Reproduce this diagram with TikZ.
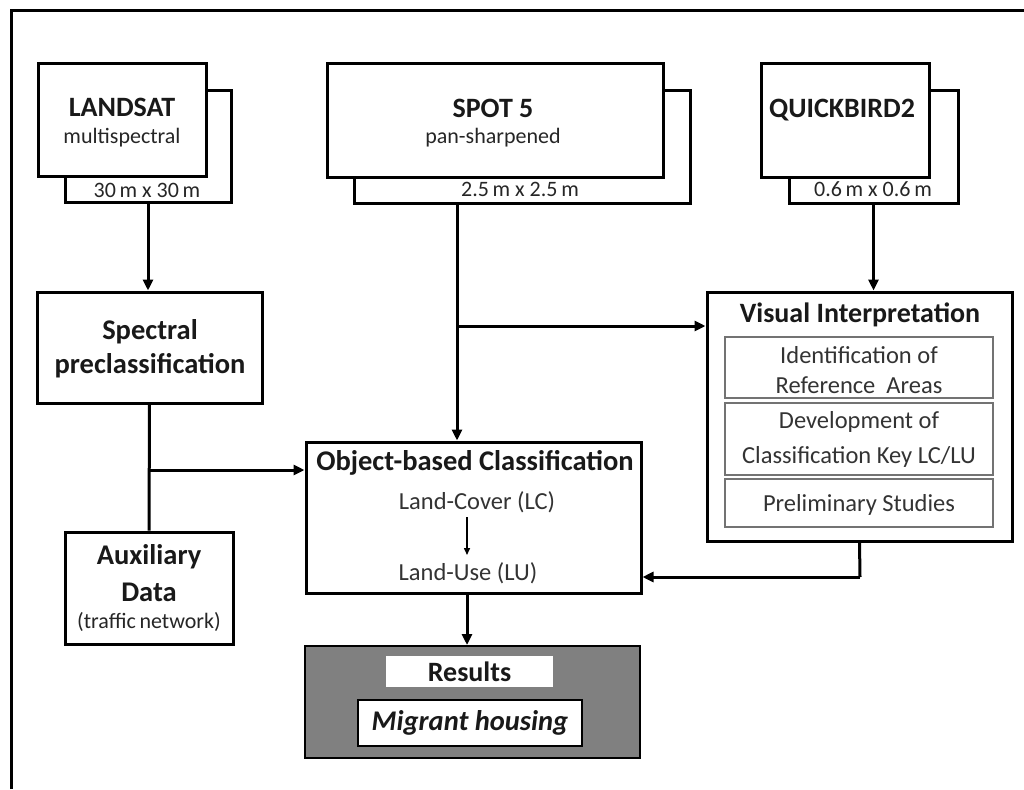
\documentclass[tikz,border=0pt]{standalone}
\usepackage{fontspec}
\setmainfont{Carlito}
\usetikzlibrary{arrows.meta,calc}
\begin{document}
\begin{tikzpicture}[x=1pt,y=-1pt,
  box/.style={draw=black,line width=3pt,fill=white,inner sep=0pt,minimum width=#1},
  subbox/.style={draw=black!55,line width=1.3pt,fill=white,inner sep=0pt,minimum width=268pt},
  ttl/.style={font=\fontsize{28}{30}\selectfont\bfseries,text=black!90,inner sep=0pt},
  ttlb/.style={font=\fontsize{28.5}{30}\selectfont\bfseries,text=black!90,inner sep=0pt},
  sub/.style={font=\fontsize{22}{24}\selectfont,text=black!85,inner sep=0pt},
  res/.style={font=\fontsize{22}{24}\selectfont,text=black!85,inner sep=0pt},
  itm/.style={font=\fontsize{24.5}{26}\selectfont,text=black!80,inner sep=0pt},
  conn/.style={line width=3pt,-{Triangle[length=11pt,width=10pt]}},
  plain/.style={line width=3pt},
  thin/.style={line width=1.5pt,-{Triangle[length=7pt,width=6pt]}}]
\useasboundingbox (0,0) rectangle (1024,789);
\draw[line width=3pt] (11,789) -- (11,11) -- (1024,11);

% LANDSAT
\node[box=166pt,minimum height=111pt] (landb) at (148,146.5) {};
\node[box=168pt,minimum height=112pt] (landf) at (122,120) {};
\node[ttl] (landt) at (122,107) {LANDSAT};
\node[sub] (lands) at (122,138) {multispectral};
\node[res] (landr) at (147,190) {30\,m x 30\,m};

% SPOT 5
\node[box=336pt,minimum height=112pt] (spotb) at (522,147) {};
\node[box=336pt,minimum height=113pt] (spotf) at (495,120.5) {};
\node[ttl] (spott) at (493,108) {SPOT 5};
\node[sub] (spots) at (493,138) {pan-sharpened};
\node[res] (spotr) at (520,189) {2.5\,m x 2.5\,m};

% QUICKBIRD2
\node[box=169pt,minimum height=112pt] (qbb) at (873.5,147) {};
\node[box=168pt,minimum height=113pt] (qbf) at (845,120.5) {};
\node[ttl] (qbt) at (842,110) {QUICKBIRD2};
\node[res] (qbr) at (873,189) {0.6\,m x 0.6\,m};

% Spectral preclassification
\node[box=225pt,minimum height=111pt] (spec) at (149.5,347.5) {};
\node[ttlb] (spect1) at (150,332) {Spectral};
\node[ttlb] (spect2) at (150,366) {preclassification};

% Auxiliary data
\node[box=168pt,minimum height=112pt] (aux) at (149,588) {};
\node[ttlb] (auxt1) at (149,557) {Auxiliary};
\node[ttlb] (auxt2) at (149,592) {Data};
\node[sub] (auxt3) at (149,622) {(traffic\,network)};

% Object-based classification
\node[box=335pt,minimum height=151pt] (obj) at (473.5,517.5) {};
\node[ttlb] (objt) at (475,463) {Object-based Classification};
\node[itm] (lc) at (477,502) {Land-Cover (LC)};
\node[itm] (lu) at (468,573) {Land-Use (LU)};
\draw[thin] (467,517) -- (467,555);

% Visual interpretation
\node[box=305pt,minimum height=249pt] (vis) at (859.5,416.5) {};
\node[font=\fontsize{28}{30}\selectfont\bfseries,text=black!90,inner sep=0pt] (vist) at (860,315) {Visual Interpretation};
\node[subbox,minimum height=61pt] (v1) at (859,367.5) {};
\node[subbox,minimum height=72pt] (v2) at (859,439) {};
\node[subbox,minimum height=48pt] (v3) at (859,503) {};
\node[itm] (v1a) at (859,355) {Identification of};
\node[itm] (v1b) at (859,385) {Reference\ \ Areas};
\node[itm] (v2a) at (859,422) {Development of};
\node[itm] (v2b) at (859,457) {Classification Key LC/LU};
\node[itm] (v3a) at (859,505) {Preliminary Studies};

% Results
\node[draw=black,line width=2pt,fill=black!50,minimum width=335pt,minimum height=112pt,inner sep=0pt] (resb) at (472.5,702) {};
\node[fill=white,minimum width=167pt,minimum height=31pt,inner sep=0pt,font=\fontsize{28}{30}\selectfont\bfseries,text=black!90] (rest) at (469.5,671.5) {Results};
\node[draw=black,line width=2pt,fill=white,minimum width=224pt,minimum height=46pt,inner sep=0pt,font=\fontsize{28.5}{30}\selectfont\bfseries\itshape,text=black!90] (mig) at (470,723) {Migrant housing};

% connectors
\coordinate (s1) at (457,203);
\coordinate (s2) at (457,326);
\coordinate (p1) at (150,470);
\coordinate (j) at (860,577);
\coordinate (o1) at (467,593);
\draw[conn] (landb.south) -- (landb.south |- spec.north);
\draw[conn] (qbb.south) -- (qbb.south |- vis.north);
\draw[conn] (s1) -- (s1 |- obj.north);
\draw[conn] (s2) -- (s2 -| vis.west);
\draw[plain] (spec.south) -- (aux.north);
\draw[conn] (p1) -- (p1 -| obj.west);
\draw[plain] (vis.south) -- (j);
\draw[conn] (j) -- (j -| obj.east);
\draw[conn] (o1) -- (o1 |- resb.north);
\end{tikzpicture}
\end{document}
